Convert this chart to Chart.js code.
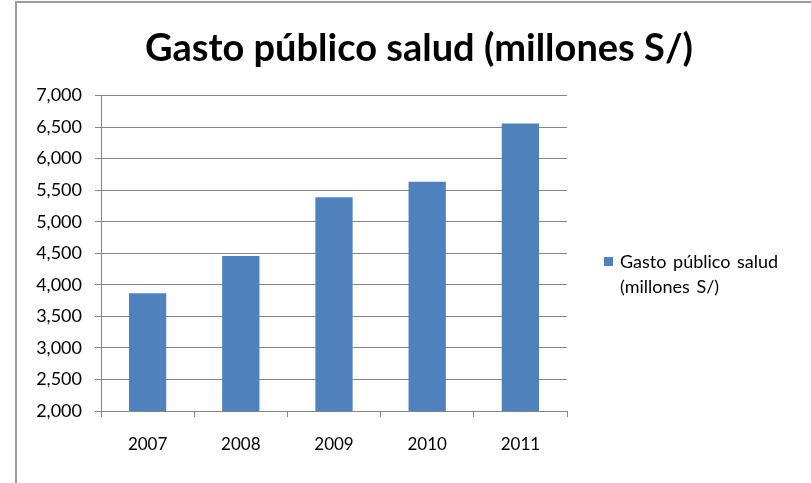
<!DOCTYPE html>
<html>
<head>
<meta charset="utf-8">
<script src="https://cdn.jsdelivr.net/npm/chart.js@4"></script>
<style>
  html, body { margin: 0; padding: 0; background: #fff; overflow: hidden; }
  #wrap { position: relative; width: 811px; height: 483px; }
  #frame { position: absolute; left: 15px; top: 1px; width: 900px; height: 600px; border: 2px solid #9a9a9a; box-sizing: border-box; }
  #legend { position: absolute; left: 604px; top: 249px; font-family: Lato, sans-serif; font-size: 18px; line-height: 25px; color: #000; word-spacing: 2px; }
  #legend .box { position: absolute; left: 0; top: 8px; width: 9px; height: 9px; background: #4F81BD; }
  #legend .txt { margin-left: 16px; }
  canvas { position: absolute; left: 0; top: 0; }
</style>
</head>
<body>
<div id="wrap">
  <div id="frame"></div>
  <canvas id="gastoChart" width="811" height="483"></canvas>
  <div id="legend"><span class="box"></span><div class="txt">Gasto público salud<br>(millones S/)</div></div>
</div>
<script>
const years = ["2007", "2008", "2009", "2010", "2011"];
const gasto = [3868, 4458, 5390, 5635, 6556];
const seriesName = "Gasto público salud (millones S/)";

const ctx = document.getElementById('gastoChart').getContext('2d');
const gastoChart = new Chart(ctx, {
  type: 'bar',
  data: {
    labels: years,
    datasets: [{
      label: seriesName,
      data: gasto,
      backgroundColor: '#4F81BD',
      barPercentage: 0.4,
      categoryPercentage: 1.0
    }]
  },
  options: {
    responsive: false,
    animation: false,
    locale: 'en-US',
    layout: { padding: { left: 27, right: 0, top: 0, bottom: 0 } },
    scales: {
      x: {
        offset: true,
        afterFit: (scale) => { scale.height = 72; },
        border: { display: true, color: '#868686', width: 1 },
        grid: { offset: true, drawOnChartArea: false, drawTicks: true, tickLength: 6, color: '#868686' },
        ticks: { color: '#000', padding: 17, font: { family: 'Lato', size: 17 } }
      },
      y: {
        min: 2000,
        max: 7000,
        afterFit: (scale) => { scale.width = 74; },
        border: { display: true, color: '#868686', width: 1 },
        grid: { color: '#868686', tickLength: 6 },
        ticks: {
          stepSize: 500,
          color: '#000',
          padding: 13,
          font: { family: 'Lato', size: 18 },
          callback: function(value) { return value.toLocaleString('en-US'); }
        }
      },
      // empty right-hand box that keeps room for the legend
      legendSpace: {
        type: 'linear',
        position: 'right',
        afterFit: (scale) => { scale.width = 244; },
        border: { display: false },
        grid: { display: false },
        ticks: { display: false }
      }
    },
    plugins: {
      legend: { display: false },
      tooltip: { enabled: false },
      title: {
        display: true,
        text: seriesName,
        color: '#000',
        font: { family: 'Lato', size: 38, weight: 'bold', lineHeight: 1.2 },
        padding: { top: 26, bottom: 24 }
      }
    }
  }
});
</script>
</body>
</html>
